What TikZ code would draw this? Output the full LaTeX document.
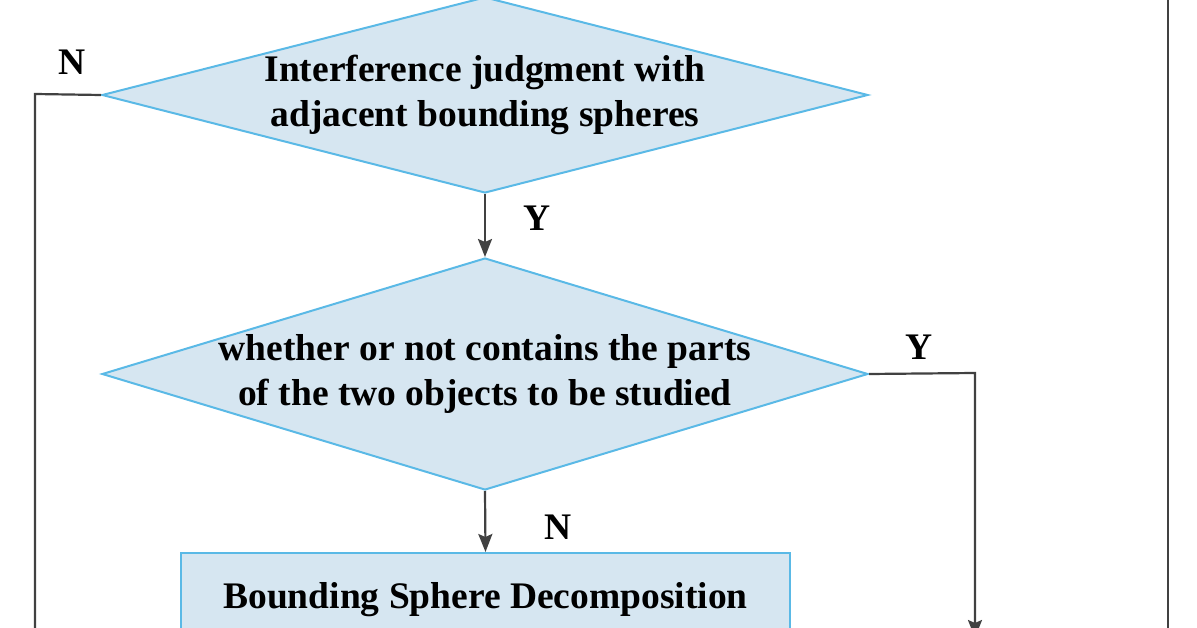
\documentclass[tikz,border=0pt]{standalone}
\usepackage{fontspec}
\setmainfont{Liberation Serif}
\usetikzlibrary{arrows.meta, positioning, shapes.geometric}
\definecolor{boxfill}{RGB}{214,230,241}
\definecolor{boxline}{RGB}{90,185,230}
\definecolor{flowline}{RGB}{65,65,65}

\begin{document}
\begin{tikzpicture}[x=1pt, y=-1pt,
    decision/.style={diamond, draw=boxline, fill=boxfill, line width=2pt, inner sep=0pt, minimum width=766pt},
    process/.style={rectangle, draw=boxline, fill=boxfill, line width=2pt, minimum width=609pt, minimum height=94pt},
    boldtext/.style={font=\fontsize{37.5}{45}\selectfont\bfseries, align=center, inner sep=0pt},
    flow/.style={draw=flowline, line width=2.2pt},
    flowarrow/.style={flow, -{Stealth[length=18pt, width=14pt, inset=3pt]}}]
    \useasboundingbox (0,0) rectangle (1197,628);

    % Interference judgment
    \node[decision, minimum height=196pt] (judge) at (485,95) {};
    \node[boldtext] (judgetext) at (judge.center) {Interference judgment with\\adjacent bounding spheres};

    % Parts of the two objects
    \node[decision, minimum height=232pt] (parts) at (485,374) {};
    \node[boldtext] (partstext) at (parts.center) {whether or not contains the parts\\of the two objects to be studied};

    % Decomposition
    \node[process] (decomp) at (485.5,600) {};
    \node[boldtext] (decomptext) at (decomp.center) {Bounding Sphere Decomposition};

    % Free ends outside the picture
    \coordinate (leftcorner) at (35,94);
    \coordinate (leftend) at (35,650);
    \coordinate (rightcorner) at (975,373);
    \coordinate (rightend) at (975,638);
    \coordinate (outertop) at (1168,-10);
    \coordinate (outerbottom) at (1168,650);

    % Connectors
    \draw[flowarrow] (judge.south) -- (parts.north);
    \draw[flowarrow] (parts.south) -- (decomp.north);
    \draw[flow] (judge.west) -- (leftcorner) -- (leftend);
    \draw[flowarrow] (parts.east) -- (rightcorner) -- (rightend);
    \draw[flow] (outertop) -- (outerbottom);

    % Branch labels
    \node[boldtext] (judgeno) at (72,62) {N};
    \node[boldtext] (judgeyes) at (537,218) {Y};
    \node[boldtext] (partsyes) at (919,347) {Y};
    \node[boldtext] (partsno) at (558,527) {N};
\end{tikzpicture}
\end{document}
